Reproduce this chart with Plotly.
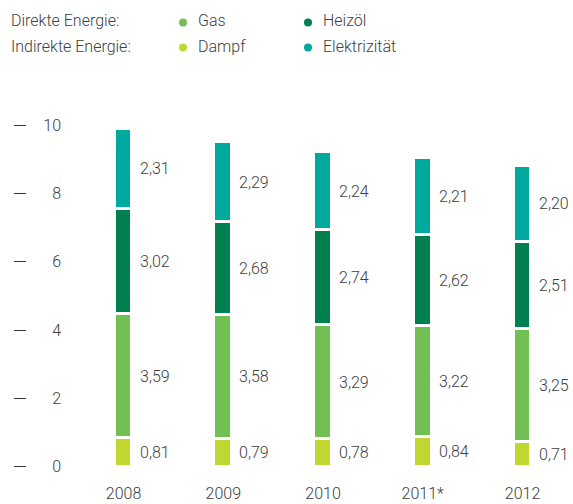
import plotly.graph_objects as go

# Daten
jahre = ["2008", "2009", "2010", "2011*", "2012"]
dampf = [0.81, 0.79, 0.78, 0.84, 0.71]
gas = [3.59, 3.58, 3.29, 3.22, 3.25]
heizoel = [3.02, 2.68, 2.74, 2.62, 2.51]
strom = [2.31, 2.29, 2.24, 2.21, 2.20]
y_ticks = [0, 2, 4, 6, 8, 10]

farben = {
    "Dampf": "#BFD730",
    "Gas": "#72BF53",
    "Heizöl": "#007F4F",
    "Elektrizität": "#00A99D",
}
text_farbe = "#404040"
schrift = "Roboto"
font = dict(family=schrift, size=16, color=text_farbe, weight=300)

W, H = 573, 504
MB = 24  # unterer Rand für Jahreszahlen
plot_h = H - MB


def px_x(x_ref):
    return x_ref / W


def px_y(y_ref):
    return (plot_h - y_ref) / plot_h


def y_bereich(null_px, px_pro_einheit):
    return [-(plot_h - null_px) / px_pro_einheit, null_px / px_pro_einheit]


fig = go.Figure()

reihen = [("Dampf", dampf), ("Gas", gas), ("Heizöl", heizoel), ("Elektrizität", strom)]
for name, werte in reihen:
    fig.add_trace(
        go.Bar(
            x=list(range(len(jahre))),
            y=werte,
            name=name,
            width=0.18,
            marker=dict(color=farben[name], line=dict(color="white", width=3)),
            showlegend=False,
            hoverinfo="skip",
        )
    )

# leere Spuren, damit die Skalen-Achsen (Striche, Zahlen) gezeichnet werden
fig.add_trace(go.Scatter(x=[], y=[], yaxis="y2", showlegend=False, hoverinfo="skip"))
fig.add_trace(go.Scatter(x=[], y=[], yaxis="y3", showlegend=False, hoverinfo="skip"))

# Wertebeschriftung rechts neben den Segmenten
basis = [0.0] * len(jahre)
for name, werte in reihen:
    for i, v in enumerate(werte):
        fig.add_annotation(
            x=i,
            y=basis[i] + v / 2,
            xref="x",
            yref="y",
            text=f"{v:.2f}".replace(".", ","),
            showarrow=False,
            xanchor="left",
            yanchor="middle",
            xshift=14,
            font=font,
        )
        basis[i] += v

# Legende oben
legende_zeilen = [
    ("Direkte Energie:", ["Gas", "Heizöl"]),
    ("Indirekte Energie:", ["Dampf", "Elektrizität"]),
]
zeilen_y = [21, 46]
spalten_x = [183, 308]
for (titel, eintraege), py in zip(legende_zeilen, zeilen_y):
    yp = px_y(py)
    fig.add_annotation(
        x=px_x(9), y=yp, xref="paper", yref="paper", text=titel, showarrow=False,
        xanchor="left", yanchor="middle", font=font,
    )
    for name, px in zip(eintraege, spalten_x):
        fig.add_shape(
            type="circle", xref="paper", yref="paper",
            xsizemode="pixel", ysizemode="pixel",
            xanchor=px_x(px), yanchor=yp - 1.5 / plot_h,
            x0=-4, x1=4, y0=-4, y1=4,
            fillcolor=farben[name], line=dict(width=0),
        )
        fig.add_annotation(
            x=px_x(px + 13), y=yp, xref="paper", yref="paper", text=name,
            showarrow=False, xanchor="left", yanchor="middle", font=font,
        )

# Achsen
px_pro_kat = 99.75
x0_px = 62
r0 = -(123.5 - x0_px) / px_pro_kat
r1 = r0 + (W - x0_px) / px_pro_kat

balken_bereich = y_bereich(466.5, 34.7)   # Balken
skala_bereich = y_bereich(466.7, 34.17)   # Skala links (leicht anders im Original)

fig.update_layout(
    width=W,
    height=H,
    barmode="stack",
    bargap=0,
    plot_bgcolor="white",
    paper_bgcolor="white",
    margin=dict(l=0, r=0, t=0, b=MB),
    showlegend=False,
    xaxis=dict(
        domain=[x0_px / W, 1],
        range=[r0, r1],
        tickvals=list(range(len(jahre))),
        ticktext=jahre,
        showgrid=False,
        zeroline=False,
        showline=False,
        ticks="",
        ticklabelstandoff=2,
        tickfont=font,
    ),
    yaxis=dict(
        range=balken_bereich,
        showticklabels=False,
        showgrid=False,
        zeroline=False,
        showline=False,
        ticks="",
    ),
    yaxis2=dict(
        overlaying="y",
        anchor="free",
        position=px_x(26),
        side="left",
        range=skala_bereich,
        tickvals=y_ticks,
        showticklabels=False,
        ticks="outside",
        ticklen=12,
        tickwidth=1,
        tickcolor="#333333",
        showgrid=False,
        zeroline=False,
        showline=False,
    ),
    yaxis3=dict(
        overlaying="y",
        anchor="free",
        position=px_x(x0_px),
        side="left",
        range=skala_bereich,
        tickvals=y_ticks,
        ticktext=[str(t) for t in y_ticks],
        ticks="",
        ticklabelstandoff=1,
        tickfont=font,
        showgrid=False,
        zeroline=False,
        showline=False,
    ),
)

# Standard-Rand des body entfernen, damit die Figur genau ins Fenster passt
fig.write_html(
    "out.html",
    config={"displayModeBar": False},
    post_script="document.body.style.margin='0';document.body.style.overflow='hidden';",
)
